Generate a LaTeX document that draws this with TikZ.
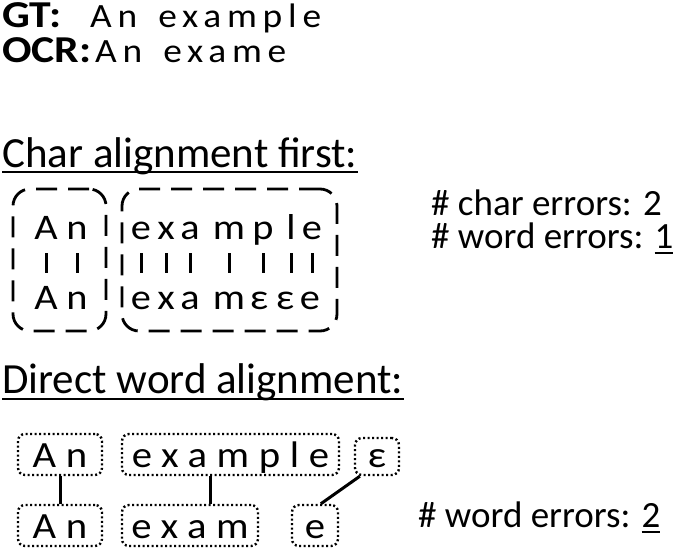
\documentclass[tikz,border=0pt]{standalone}
\usepackage{fontspec}
\setmainfont{Carlito}
\usetikzlibrary{calc}
\newcommand\undl[1]{\setbox0\hbox{#1}\rlap{\rule[-6pt]{\wd0}{2.5pt}}#1}
\tikzset{
  lab/.style={inner sep=0pt, anchor=base west, font=\fontsize{38}{44}\selectfont\bfseries\addfontfeature{FakeStretch=1.15}},
  sp/.style={inner sep=0pt, anchor=base west, font=\fontsize{34}{40}\selectfont\addfontfeature{FakeStretch=1.1,LetterSpace=17}},
  head/.style={inner sep=0pt, anchor=base west, font=\fontsize{43}{50}\selectfont},
  note/.style={inner sep=0pt, anchor=base west, font=\fontsize{37}{44}\selectfont},
  ul/.style={line width=2.8pt},
  chr/.style={inner sep=0pt, anchor=base, font=\fontsize{36}{40}\selectfont\addfontfeature{FakeStretch=1.12}, text height=23pt, text depth=7pt},
  bar/.style={line width=3pt, shorten <=7pt, shorten >=13pt},
  dbox/.style={draw, line width=2.8pt, dash pattern=on 21pt off 11pt, rounded corners=17pt, inner sep=0pt},
  wbox/.style={draw, line width=2.4pt, dash pattern=on 2pt off 2.5pt, rounded corners=7pt, inner xsep=0pt, inner ysep=0pt,
    anchor=base, text height=33pt, text depth=8pt, font=\fontsize{37}{42}\selectfont\addfontfeature{FakeStretch=1.1,LetterSpace=26}},
  link/.style={line width=3pt}
}
\begin{document}
\begin{tikzpicture}[x=1pt,y=-1pt]
\useasboundingbox (0,0) rectangle (685,549);
% GT / OCR
\node[lab] (gt) at (2,27) {GT:};
\node[sp] (gtt) at (90,27) {An\hspace{21pt}example};
\node[lab] (ocr) at (2,62) {OCR:};
\node[sp] (ocrt) at (95,62) {An\hspace{21pt}exame};
% headings
\node[head] (h1) at (2,167) {Char alignment first:};
\draw[ul] ([yshift=-5pt]h1.base west) -- ([yshift=-5pt]h1.base east);
\node[head] (h2) at (2,393) {Direct word alignment:};
\draw[ul] ([yshift=-6pt]h2.base west) -- ([yshift=-6pt]h2.base east);
% char alignment
\node[dbox, minimum width=93pt, minimum height=142pt] (cb1) at (59.5,260) {};
\node[dbox, minimum width=215pt, minimum height=142pt] (cb2) at (229.5,260) {};
\foreach \n/\x/\c in {tA/46/A, tn/77/n, te1/141/e, tx/166/x, ta/190/a, tm/229/m, tp/263/p, tl/291/l, te2/312/e}
  \node[chr] (\n) at (\x,239) {\c};
\foreach \n/\x/\c in {bA/46/A, bn/77/n, be1/141/e, bx/166/x, ba/190/a, bm/229/m, bE1/259/ε, bE2/285/ε, be2/310/e}
  \node[chr] (\n) at (\x,309) {\c};
\foreach \t/\b in {tA/bA, tn/bn, te1/be1, tx/bx, ta/ba, tm/bm, tp/bE1, tl/bE2, te2/be2}
  \draw[bar] (\t.south) -- (\t.south |- \b.north);
\node[note, text depth=0pt] (n1) at (431,215) {\# char errors: 2};
\node[note, text height=25pt] (n2) at (431,248) {\# word errors: \undl{1}};
% direct word alignment
\node[wbox, minimum width=84pt] (wA1) at (60,467) {An};
\node[wbox, minimum width=217pt] (wEx) at (230.5,467) {example};
\node[wbox, minimum width=44pt, text height=29pt] (wEps) at (377,467) {ε};
\node[wbox, minimum width=84pt] (wA2) at (60,538) {An};
\node[wbox, minimum width=136pt] (wEm) at (190,538) {exam};
\node[wbox, minimum width=46pt] (wE) at (315,538) {e};
\draw[link] (wA1.south) -- (wA2.north);
\coordinate (mid) at ($(wEx.center)!.5!(wEm.center)$);
\draw[link] (mid |- wEx.south) -- (mid |- wEm.north);
\draw[link] (wEps.229) -- (wE.75);
\node[note] (n3) at (418,527) {\# word errors: \undl{2}};
\end{tikzpicture}
\end{document}
